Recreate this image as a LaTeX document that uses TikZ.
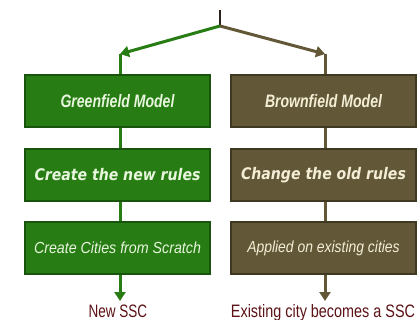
\documentclass[tikz,border=0pt]{standalone}
\usepackage{fontspec}
\setmainfont{Liberation Sans}
\newfontfamily\widebold{DejaVu Sans}
\usetikzlibrary{arrows.meta}
\definecolor{gfill}{RGB}{40,124,20}
\definecolor{gedge}{RGB}{24,84,12}
\definecolor{gtext}{RGB}{232,246,222}
\definecolor{bfill}{RGB}{98,88,56}
\definecolor{bedge}{RGB}{64,57,34}
\definecolor{btext}{RGB}{244,238,214}
\definecolor{labelred}{RGB}{92,18,22}
\definecolor{topline}{RGB}{40,36,28}
\newcommand{\narrow}[2]{\scalebox{#1}[1]{#2}}
\tikzset{
  x=1pt, y=-1pt,
  modelbox/.style={minimum width=185pt, minimum height=52pt, inner sep=0pt,
    font=\bfseries\itshape, line width=1.2pt},
  greenbox/.style={modelbox, fill=gfill, draw=gedge, text=gtext},
  brownbox/.style={modelbox, fill=bfill, draw=bedge, text=btext},
  glink/.style={draw=gfill, line width=3pt},
  blink/.style={draw=bfill, line width=3pt},
  gtip/.style={glink, -{Triangle[length=9pt,width=11pt]}},
  btip/.style={blink, -{Triangle[length=9pt,width=11pt]}},
  result/.style={text=labelred, font=\fontsize{18}{19}\selectfont, anchor=base, inner sep=0pt},
  headfont/.style={font=\fontsize{18}{19}\selectfont\bfseries\itshape},
  rulefont/.style={font=\fontsize{16}{18}\selectfont\widebold\bfseries\itshape},
  cityfont/.style={font=\fontsize{16}{18}\selectfont\itshape}
}
\begin{document}
\begin{tikzpicture}
\useasboundingbox (0,0) rectangle (417,320);
\fill[white] (0,0) rectangle (417,320);

% split point at the top
\coordinate (top) at (220,10);
\coordinate (fork) at (220,26);
\coordinate (gturn) at (120,54);
\coordinate (bturn) at (325,54);
\coordinate (gend) at (120,301);
\coordinate (bend) at (325,301);

% green column
\node[greenbox, headfont] (g1) at (117.5,101) {\narrow{0.78}{Greenfield Model}};
\node[greenbox, rulefont] (g2) at (117.5,175) {\narrow{0.88}{Create the new rules}};
\node[greenbox, cityfont] (g3) at (117.5,248) {\narrow{0.89}{Create Cities from Scratch}};
\node[result] (gout) at (118,317.5) {\narrow{0.75}{New SSC}};

% brown column
\node[brownbox, headfont] (b1) at (323.5,101) {\narrow{0.78}{Brownfield Model}};
\node[brownbox, rulefont] (b2) at (323.5,175) {\narrow{0.88}{Change the old rules}};
\node[brownbox, cityfont] (b3) at (323.5,248) {\narrow{0.87}{Applied on existing cities}};
\node[result] (bout) at (323,317.5) {\narrow{0.8}{Existing city becomes a SSC}};

% connectors
\draw[topline, line width=2.5pt] (top) -- (fork);
\draw[gtip] (fork) -- (gturn);
\draw[btip] (fork) -- (bturn);
\draw[glink] (gturn) -- (gturn |- g1.north);
\draw[blink] (bturn) -- (bturn |- b1.north);
\draw[glink] (g1.south -| gturn) -- (g2.north -| gturn);
\draw[glink] (g2.south -| gturn) -- (g3.north -| gturn);
\draw[blink] (b1.south -| bturn) -- (b2.north -| bturn);
\draw[blink] (b2.south -| bturn) -- (b3.north -| bturn);
\draw[gtip] (g3.south -| gturn) -- (gend);
\draw[btip] (b3.south -| bturn) -- (bend);
\end{tikzpicture}
\end{document}
